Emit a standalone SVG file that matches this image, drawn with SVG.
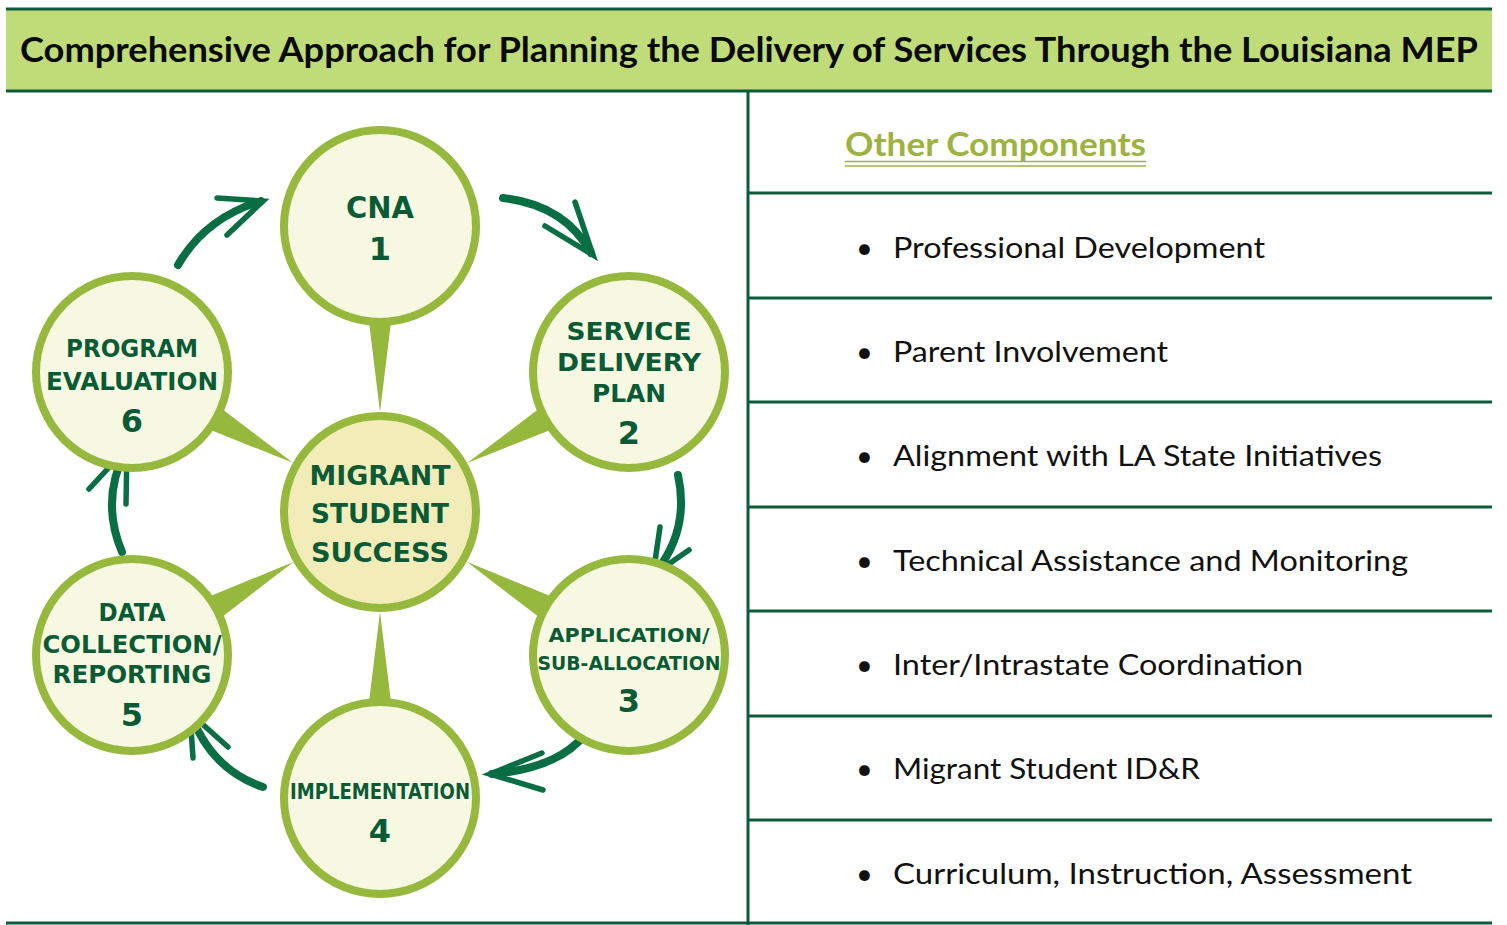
<svg xmlns="http://www.w3.org/2000/svg" width="1507" height="925" viewBox="0 0 1507 925">
  <style>
    .rule { stroke: #0d5a3a; stroke-width: 3; fill: none; }
    .ring { fill: #f6f8e2; stroke: #95b83d; stroke-width: 8; }
    .hub { fill: #f2ecb9; stroke: #95b83d; stroke-width: 8; }
    .spike { fill: #95b83d; }
    .nt { font-family: "DejaVu Sans", "Liberation Sans", sans-serif; font-weight: bold; fill: #0b5a36; text-anchor: middle; }
    .num { font-family: "DejaVu Sans", "Liberation Sans", sans-serif; font-weight: bold; fill: #0b5a36; text-anchor: middle; font-size: 32px; }
    .item { font-family: Lato, "Open Sans", sans-serif; font-size: 29px; fill: #111111; }
    .body { fill: none; stroke: #0a6e45; stroke-width: 8; stroke-linecap: round; }
    .head { fill: none; stroke: #0a6e45; stroke-width: 5.5; stroke-linecap: round; stroke-linejoin: miter; }
  </style>

  <rect x="0" y="0" width="1507" height="925" fill="#ffffff"/>

  <!-- title bar -->
  <g id="title">
    <rect x="6" y="9" width="1486" height="82" fill="#c0dc78"/>
    <line class="rule" x1="6" y1="9" x2="1492" y2="9"/>
    <line class="rule" x1="6" y1="91" x2="1492" y2="91"/>
    <text x="20" y="62" font-family="Lato, 'Open Sans', sans-serif" font-weight="bold" font-size="35" fill="#0a0a0a" textLength="1458" lengthAdjust="spacingAndGlyphs">Comprehensive Approach for Planning the Delivery of Services Through the Louisiana MEP</text>
  </g>

  <!-- panel frame -->
  <g id="frame">
    <line class="rule" x1="748" y1="92" x2="748" y2="925"/>
    <line class="rule" x1="748" y1="193" x2="1492" y2="193"/>
    <line class="rule" x1="748" y1="298" x2="1492" y2="298"/>
    <line class="rule" x1="748" y1="402" x2="1492" y2="402"/>
    <line class="rule" x1="748" y1="507" x2="1492" y2="507"/>
    <line class="rule" x1="748" y1="611" x2="1492" y2="611"/>
    <line class="rule" x1="748" y1="716" x2="1492" y2="716"/>
    <line class="rule" x1="748" y1="820" x2="1492" y2="820"/>
    <line class="rule" x1="6" y1="923" x2="1492" y2="923"/>
  </g>

  <!-- spokes from the hub to each stage -->
  <g id="spokes">
    <polygon class="spike" points="380,412 369,322 391,322"/>
    <polygon class="spike" points="467.2,463 550.3,430 538.6,409.1"/>
    <polygon class="spike" points="466.7,561.8 538.9,617.1 550.9,596.3"/>
    <polygon class="spike" points="380,612 369,702 391,702"/>
    <polygon class="spike" points="293.4,562 222,617 210,596.2"/>
    <polygon class="spike" points="292.9,462.8 222.4,409.2 210.6,430.1"/>
  </g>

  <!-- cycle arrows -->
  <g id="connectors">
    <path class="body" d="M178,265 Q205,218 261,201"/>
    <path class="head" d="M217,198 L263,201 L227,235"/>
    <path class="body" d="M503,198 Q565,205 591,253"/>
    <path class="head" d="M575,202 L593,255 L545,226"/>
    <path class="body" d="M678,475 Q690,530 655,573"/>
    <path class="head" d="M660,527 L653,575 L689,550"/>
    <path class="body" d="M586,733 Q560,768 492,774"/>
    <path class="head" d="M542,753 L490,774 L543,790"/>
    <path class="body" d="M263,787 Q212,770 191,715"/>
    <path class="head" d="M228,747 L190,713 L193,758"/>
    <path class="body" d="M122,552 Q100,500 126,450"/>
    <path class="head" d="M89,489 L127,448 L126,504"/>
  </g>

  <g id="hub">
    <circle class="hub" cx="380" cy="512" r="96"/>
    <text class="nt" x="380" y="485" font-size="27" textLength="141" lengthAdjust="spacingAndGlyphs">MIGRANT</text>
    <text class="nt" x="380" y="523" font-size="27" textLength="138" lengthAdjust="spacingAndGlyphs">STUDENT</text>
    <text class="nt" x="380" y="562" font-size="27" textLength="138" lengthAdjust="spacingAndGlyphs">SUCCESS</text>
  </g>

  <g id="stage-cna">
    <circle class="ring" cx="380" cy="226" r="96"/>
    <text class="nt" x="380" y="218" font-size="31" textLength="68" lengthAdjust="spacingAndGlyphs">CNA</text>
    <text class="num" x="380" y="260">1</text>
  </g>

  <g id="stage-sdp">
    <circle class="ring" cx="629" cy="372" r="96"/>
    <text class="nt" x="629" y="340" font-size="25" textLength="125" lengthAdjust="spacingAndGlyphs">SERVICE</text>
    <text class="nt" x="629" y="371" font-size="25" textLength="144" lengthAdjust="spacingAndGlyphs">DELIVERY</text>
    <text class="nt" x="629" y="402" font-size="25" textLength="74" lengthAdjust="spacingAndGlyphs">PLAN</text>
    <text class="num" x="629" y="444">2</text>
  </g>

  <g id="stage-application">
    <circle class="ring" cx="629" cy="655" r="96"/>
    <text class="nt" x="629" y="642" font-size="19" textLength="161" lengthAdjust="spacingAndGlyphs">APPLICATION/</text>
    <text class="nt" x="629" y="670" font-size="19" textLength="183" lengthAdjust="spacingAndGlyphs">SUB-ALLOCATION</text>
    <text class="num" x="629" y="712" font-size="30">3</text>
  </g>

  <g id="stage-implementation">
    <circle class="ring" cx="380" cy="798" r="96"/>
    <text class="nt" x="380" y="799" font-size="21" textLength="180" lengthAdjust="spacingAndGlyphs">IMPLEMENTATION</text>
    <text class="num" x="380" y="842">4</text>
  </g>

  <g id="stage-data">
    <circle class="ring" cx="132" cy="655" r="96"/>
    <text class="nt" x="132" y="621" font-size="24" textLength="67" lengthAdjust="spacingAndGlyphs">DATA</text>
    <text class="nt" x="132" y="653" font-size="24" textLength="179" lengthAdjust="spacingAndGlyphs">COLLECTION/</text>
    <text class="nt" x="132" y="683" font-size="24" textLength="159" lengthAdjust="spacingAndGlyphs">REPORTING</text>
    <text class="num" x="132" y="726">5</text>
  </g>

  <g id="stage-evaluation">
    <circle class="ring" cx="132" cy="372" r="96"/>
    <text class="nt" x="132" y="357" font-size="25" textLength="132" lengthAdjust="spacingAndGlyphs">PROGRAM</text>
    <text class="nt" x="132" y="390" font-size="25" textLength="172" lengthAdjust="spacingAndGlyphs">EVALUATION</text>
    <text class="num" x="132" y="432">6</text>
  </g>

  <!-- other components list -->
  <g id="components">
    <text x="845" y="156" font-family="Lato, 'Open Sans', sans-serif" font-weight="bold" font-size="32" fill="#9db23f" textLength="301" lengthAdjust="spacingAndGlyphs">Other Components</text>
    <line x1="845" y1="161.5" x2="1146" y2="161.5" stroke="#9db23f" stroke-width="1.5"/>
    <line x1="845" y1="166" x2="1146" y2="166" stroke="#9db23f" stroke-width="1.5"/>

    <text class="item" x="856" y="258">•</text>
    <text class="item" x="893" y="258" textLength="372" lengthAdjust="spacingAndGlyphs">Professional Development</text>
    <text class="item" x="856" y="362">•</text>
    <text class="item" x="893" y="362" textLength="275" lengthAdjust="spacingAndGlyphs">Parent Involvement</text>
    <text class="item" x="856" y="466">•</text>
    <text class="item" x="893" y="466" textLength="489" lengthAdjust="spacingAndGlyphs">Alignment with LA State Initiatives</text>
    <text class="item" x="856" y="571">•</text>
    <text class="item" x="893" y="571" textLength="515" lengthAdjust="spacingAndGlyphs">Technical Assistance and Monitoring</text>
    <text class="item" x="856" y="675">•</text>
    <text class="item" x="893" y="675" textLength="410" lengthAdjust="spacingAndGlyphs">Inter/Intrastate Coordination</text>
    <text class="item" x="856" y="779">•</text>
    <text class="item" x="893" y="779" textLength="307" lengthAdjust="spacingAndGlyphs">Migrant Student ID&amp;R</text>
    <text class="item" x="856" y="884">•</text>
    <text class="item" x="893" y="884" textLength="519" lengthAdjust="spacingAndGlyphs">Curriculum, Instruction, Assessment</text>
  </g>
</svg>
